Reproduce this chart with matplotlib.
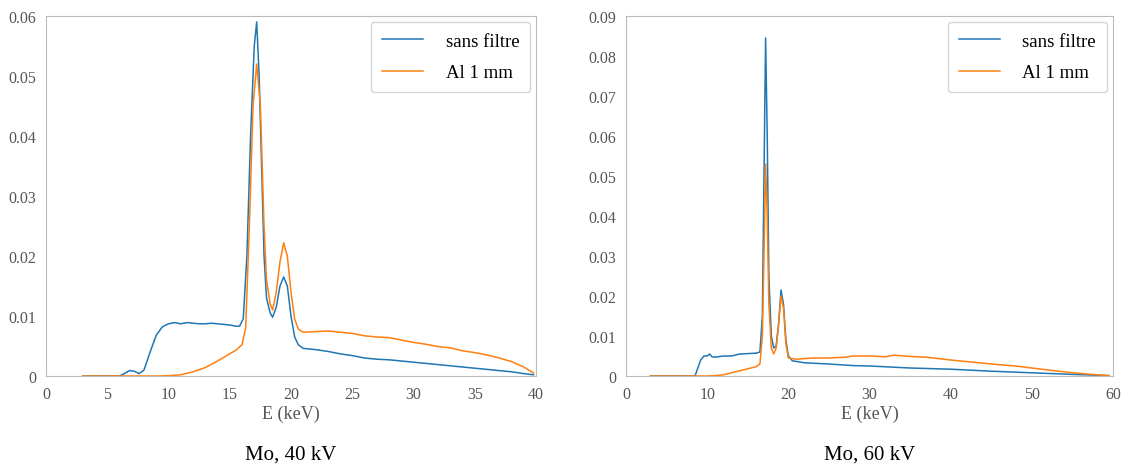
import numpy as np
import matplotlib.pyplot as plt
from matplotlib.ticker import FuncFormatter

plt.rcParams['font.family'] = ['Liberation Serif', 'DejaVu Serif']

# Mo, 40 kV
e40_blue = [3, 5, 6, 6.4, 6.8, 7.2, 7.6, 8, 8.5, 9, 9.5, 10, 10.5, 11, 11.5, 12, 12.5, 13, 13.5, 14, 14.5,
            15, 15.5, 15.8, 16.1, 16.4, 16.7, 17.0, 17.2, 17.4, 17.6, 17.8, 18.0, 18.3, 18.5, 18.8, 19.1,
            19.4, 19.7, 20.0, 20.3, 20.6, 21, 22, 23, 24, 25, 26, 27, 28, 29, 30, 31, 32, 33, 34, 35, 36,
            37, 38, 39, 39.8]
s40_blue = [0, 0, 0, 0.0004, 0.0009, 0.0008, 0.0004, 0.001, 0.004, 0.0068, 0.0082, 0.0087, 0.0089, 0.0087,
            0.0089, 0.0088, 0.0087, 0.0087, 0.0088, 0.0087, 0.0086, 0.0085, 0.0083, 0.0083, 0.0095, 0.02,
            0.04, 0.055, 0.059, 0.05, 0.035, 0.02, 0.013, 0.0105, 0.0098, 0.0115, 0.015, 0.0165, 0.015,
            0.01, 0.0065, 0.0052, 0.0046, 0.0044, 0.0041, 0.0037, 0.0034, 0.003, 0.0028, 0.0027, 0.0025,
            0.0023, 0.0021, 0.0019, 0.0017, 0.0015, 0.0013, 0.0011, 0.0009, 0.0007, 0.0004, 0.0002]
e40_orange = [3, 9, 10, 11, 12, 13, 14, 15, 15.5, 16, 16.3, 16.6, 16.9, 17.2, 17.5, 17.8, 18.0, 18.3,
              18.5, 18.8, 19.1, 19.4, 19.7, 20.0, 20.3, 20.6, 21, 22, 23, 24, 25, 26, 27, 28, 29, 30,
              31, 32, 33, 34, 35, 36, 37, 38, 39, 39.8]
s40_orange = [0, 0, 0.00005, 0.0002, 0.0007, 0.0014, 0.0025, 0.0037, 0.0043, 0.0052, 0.008, 0.025, 0.045,
              0.052, 0.045, 0.025, 0.016, 0.012, 0.011, 0.014, 0.019, 0.0222, 0.02, 0.014, 0.0095, 0.0078,
              0.0073, 0.0074, 0.0075, 0.0073, 0.0071, 0.0067, 0.0065, 0.0064, 0.006, 0.0056, 0.0053,
              0.0049, 0.0047, 0.0042, 0.0039, 0.0035, 0.003, 0.0024, 0.0015, 0.0005]

# Mo, 60 kV
e60_blue = [3, 8.5, 9.2, 9.6, 10, 10.3, 10.6, 11, 12, 13, 14, 15, 16, 16.5, 16.8, 17.0, 17.2, 17.4, 17.6,
            17.9, 18.2, 18.5, 18.8, 19.1, 19.4, 19.7, 20.0, 20.5, 22, 25, 28, 30, 33, 35, 40, 45, 50, 55,
            58, 59.5]
s60_blue = [0, 0, 0.004, 0.005, 0.005, 0.0055, 0.0048, 0.0047, 0.005, 0.005, 0.0055, 0.0056, 0.0057,
            0.006, 0.015, 0.05, 0.0845, 0.06, 0.025, 0.01, 0.007, 0.0075, 0.013, 0.0215, 0.018, 0.009,
            0.005, 0.0038, 0.0033, 0.003, 0.0026, 0.0025, 0.0022, 0.002, 0.0017, 0.0012, 0.0008, 0.0004,
            0.0002, 0.0001]
e60_orange = [3, 10, 11, 12, 13, 14, 15, 16, 16.5, 16.8, 17.0, 17.2, 17.4, 17.6, 17.9, 18.2, 18.5, 18.8,
              19.1, 19.4, 19.7, 20.0, 21, 23, 25, 27, 28, 30, 32, 33, 35, 37, 40, 42, 45, 48, 50, 52,
              55, 58, 59.5]
s60_orange = [0, 0, 0.0001, 0.0003, 0.0008, 0.0013, 0.0018, 0.0023, 0.003, 0.01, 0.03, 0.053, 0.04, 0.018,
              0.007, 0.0055, 0.007, 0.013, 0.02, 0.017, 0.008, 0.0045, 0.0042, 0.0045, 0.0045, 0.0047,
              0.005, 0.005, 0.0048, 0.0052, 0.0049, 0.0047, 0.004, 0.0036, 0.003, 0.0025, 0.002, 0.0015,
              0.0008, 0.0003, 0.0001]

panels = [
    (e40_blue, s40_blue, e40_orange, s40_orange, 40, np.arange(0, 41, 5), 0.06, 'Mo, 40 kV'),
    (e60_blue, s60_blue, e60_orange, s60_orange, 60, np.arange(0, 61, 10), 0.09, 'Mo, 60 kV'),
]
rects = [[46/1128, 100/477, 490/1128, 360/477], [626/1128, 100/477, 487/1128, 360/477]]

fig = plt.figure(figsize=(11.28, 4.77), dpi=100)

def fmt(v, pos):
    return '0' if v == 0 else ('%.2f' % v)

for rect, (eb, sb, eo, so, xmax, xt, ymax, title) in zip(rects, panels):
    ax = fig.add_axes(rect)
    ax.plot(eb, sb, color='#1f77b4', lw=1.1, label='sans filtre')
    ax.plot(eo, so, color='#ff7f0e', lw=1.1, label='Al 1 mm')
    ax.set_xlim(0, xmax)
    ax.set_ylim(0, ymax)
    ax.set_xticks(xt)
    ax.set_yticks(np.arange(0, ymax + 1e-9, 0.01))
    ax.yaxis.set_major_formatter(FuncFormatter(fmt))
    ax.tick_params(length=0, labelsize=11.5, labelcolor='#555555', pad=7)
    for s in ax.spines.values():
        s.set_color('#bbbbbb')
    ax.set_xlabel('E (keV)', fontsize=13, color='#555555', labelpad=2)
    leg = ax.legend(loc='upper right', fontsize=13.5, handlelength=2.2, handletextpad=1.2,
                    labelspacing=0.75, borderpad=0.6, borderaxespad=0.3, frameon=True, fancybox=True)
    leg.get_frame().set_edgecolor('#cccccc')
    x0, y0, w, h = rect
    fig.text(x0 + w / 2, 0.027, title, ha='center', va='bottom', fontsize=15)

fig.savefig('out.png', dpi=100)
